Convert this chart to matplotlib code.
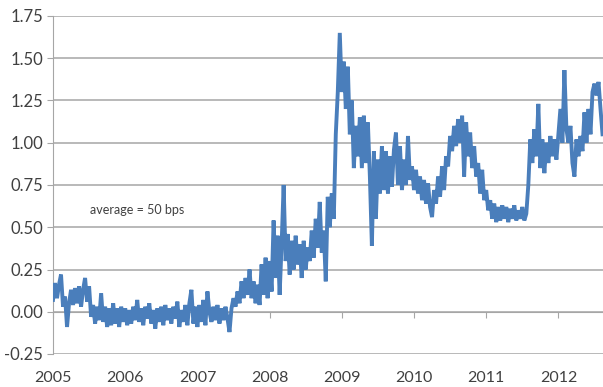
import numpy as np
from matplotlib import pyplot as plt

# spread, in percentage points, sampled every 1/36 of a year
spread_2005 = [0.07, 0.17, 0.08, 0.16, 0.22, 0.03, 0.09, -0.09, 0.05, 0.13, 0.04, 0.14,
               0.05, 0.15, 0.03, 0.13, 0.20, 0.06, 0.15, -0.03, 0.04, -0.07, 0.03, -0.05,
               0.11, -0.06, 0.03, -0.09, 0.02, -0.08, 0.05, -0.07, 0.02, -0.09, 0.03, -0.06]
spread_2006 = [0.02, -0.08, 0.01, -0.07, 0.03, -0.05, 0.07, -0.06, 0.02, -0.08, 0.03, -0.04,
               0.05, -0.07, 0.01, -0.10, 0.02, -0.06, 0.03, -0.08, 0.04, -0.05, 0.02, -0.07,
               0.03, -0.04, 0.06, -0.09, 0.01, -0.06, 0.04, -0.08, 0.05, 0.13, -0.07, 0.03]
spread_2007 = [-0.09, 0.04, -0.06, 0.07, -0.08, 0.12, 0.00, -0.06, 0.03, -0.05, 0.04, -0.07,
               0.02, -0.05, 0.03, -0.04, -0.12, 0.02, 0.08, 0.03, 0.12, 0.05, 0.18, 0.08,
               0.20, 0.10, 0.25, 0.08, 0.18, 0.05, 0.16, 0.04, 0.28, 0.10, 0.32, 0.08]
spread_2008 = [0.30, 0.12, 0.54, 0.20, 0.45, 0.10, 0.40, 0.75, 0.30, 0.46, 0.22, 0.42,
               0.25, 0.45, 0.28, 0.40, 0.20, 0.42, 0.25, 0.38, 0.30, 0.48, 0.32, 0.55,
               0.38, 0.65, 0.35, 0.48, 0.18, 0.68, 0.50, 0.70, 0.55, 1.05, 1.30, 1.65]
spread_2009 = [1.30, 1.48, 1.20, 1.45, 1.05, 1.25, 0.85, 1.10, 0.92, 1.15, 0.85, 1.16,
               0.88, 1.12, 0.80, 0.39, 0.95, 0.55, 0.90, 0.70, 0.98, 0.72, 0.95, 0.70,
               0.92, 0.74, 0.96, 1.06, 0.75, 0.98, 0.72, 0.90, 0.75, 1.04, 0.78, 0.86]
spread_2010 = [0.72, 0.84, 0.70, 0.80, 0.66, 0.78, 0.64, 0.76, 0.62, 0.56, 0.72, 0.64,
               0.80, 0.68, 0.86, 0.72, 0.92, 0.86, 1.04, 0.95, 1.10, 0.98, 1.14, 1.00,
               1.16, 0.80, 1.12, 0.92, 1.06, 0.85, 0.98, 0.80, 0.88, 0.70, 0.84, 0.66]
spread_2011 = [0.72, 0.60, 0.66, 0.55, 0.64, 0.53, 0.62, 0.54, 0.63, 0.55, 0.62, 0.53,
               0.61, 0.55, 0.63, 0.54, 0.60, 0.55, 0.62, 0.54, 0.58, 0.75, 1.02, 0.88,
               1.08, 0.92, 1.23, 0.85, 1.02, 0.82, 1.00, 0.88, 1.04, 0.92, 1.02, 0.90]
spread_2012 = [1.05, 1.20, 1.00, 1.43, 1.08, 1.00, 1.10, 0.88, 0.80, 1.02, 0.92, 1.04,
               0.95, 1.18, 1.00, 1.20, 1.05, 1.30, 1.35, 1.28, 1.36, 1.20, 1.05]

years = list(range(2005, 2013))
y_ticks = [-0.25, 0.0, 0.25, 0.5, 0.75, 1.0, 1.25, 1.5, 1.75]
note = 'average = 50 bps'

spread = np.array(spread_2005 + spread_2006 + spread_2007 + spread_2008 +
                  spread_2009 + spread_2010 + spread_2011 + spread_2012)
t = 2005 + np.arange(len(spread)) / 36.0

txt = '#404040'
grid = '#a6a6a6'
plt.rcParams['font.family'] = ['Lato', 'DejaVu Sans']

fig = plt.figure(figsize=(6.03, 3.87), dpi=100)
ax = fig.add_axes([53 / 603, 1 - 354 / 387, 550 / 603, 338 / 387])

ax.plot(t, spread, color='#4a7ebb', lw=2.8, solid_joinstyle='miter', zorder=3)

ax.set_xlim(2005, 2005 + 550 / 72.2)
ax.set_ylim(-0.25, 1.75)
ax.set_yticks(y_ticks)
ax.set_yticklabels(['%.2f' % v for v in y_ticks])
ax.yaxis.grid(True, color=grid, lw=1.1)
ax.set_axisbelow(True)

# x axis sits on zero, labels pushed to the bottom
ax.set_xticks(years)
ax.set_xticklabels([str(y) for y in years])
ax.spines['bottom'].set_position(('data', 0))
ax.spines['bottom'].set_color(grid)
ax.spines['left'].set_color(grid)
ax.spines['right'].set_visible(False)
ax.spines['top'].set_visible(False)
ax.tick_params(axis='x', length=4, color=grid, pad=39, labelsize=11.5, labelcolor=txt)
ax.tick_params(axis='y', length=4, color=grid, pad=3, labelsize=12, labelcolor=txt)

ax.text(2005.51, 0.60, note, fontsize=9, color=txt, va='center', ha='left')

fig.savefig('out.png', dpi=100)
